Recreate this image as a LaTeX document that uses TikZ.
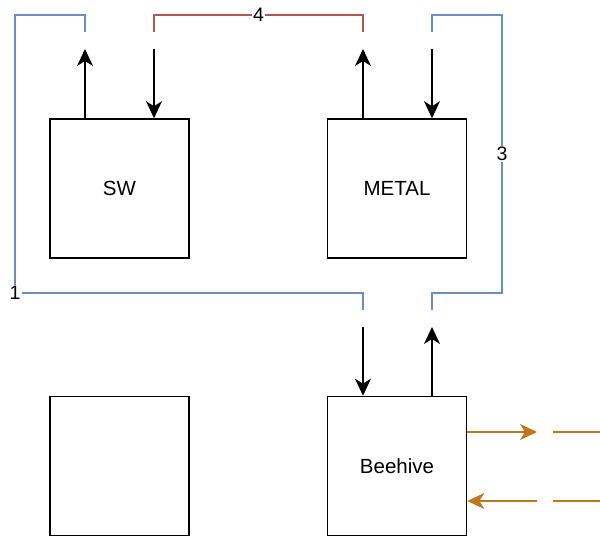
\documentclass[tikz,border=0pt]{standalone}
\usepackage{fontspec}
\setmainfont{Liberation Sans}
\usetikzlibrary{arrows.meta}
\definecolor{linkblue}{RGB}{108,142,191}
\definecolor{linkred}{RGB}{184,84,80}
\definecolor{linkorange}{RGB}{191,118,28}

\begin{document}
\begin{tikzpicture}[
    x=1pt, y=-1pt,
    box/.style={rectangle, draw, line width=1.6pt, minimum width=139pt, minimum height=139pt, font=\fontsize{20.5}{24}\selectfont},
    arrow/.style={-{Stealth[length=17pt, width=16pt, inset=5pt]}, line width=1.6pt},
    link/.style={line width=1.3pt},
    tag/.style={fill=white, inner sep=1.5pt, font=\fontsize{19.5}{22}\selectfont}
]
    \useasboundingbox (0,0) rectangle (600,537);

    % Boxes
    \node[box] (sw) at (119.5,188.5) {SW};
    \node[box] (metal) at (397,188.5) {METAL};
    \node[box] (spare) at (119.5,466) {};
    \node[box] (hive) at (397,466) {Beehive};

    % Free ends of the arrows and links
    \coordinate (swout) at (85,49);
    \coordinate (swin) at (154,49);
    \coordinate (metalout) at (363,49);
    \coordinate (metalin) at (432,49);
    \coordinate (hivein) at (363,327);
    \coordinate (hiveout) at (432,327);
    \coordinate (swoutend) at (85,32);
    \coordinate (swinend) at (154,32);
    \coordinate (metaloutend) at (363,32);
    \coordinate (metalinend) at (432,32);
    \coordinate (hiveinend) at (363,310);
    \coordinate (hiveoutend) at (432,310);
    \coordinate (corner1) at (15,293);

    % Arrows at the boxes
    \draw[arrow] (sw.north -| swout) -- (swout);
    \draw[arrow] (swin) -- (sw.north -| swin);
    \draw[arrow] (metal.north -| metalout) -- (metalout);
    \draw[arrow] (metalin) -- (metal.north -| metalin);
    \draw[arrow] (hivein) -- (hive.north -| hivein);
    \draw[arrow] (hive.north -| hiveout) -- (hiveout);

    % Links
    \draw[link, linkblue] (swoutend) -- ++(0,-17) -| (corner1) -| (hiveinend);
    \node[tag] at (corner1) {1};
    \draw[link, linkred] (swinend) -- ++(0,-17) -- node[tag, text=black] {4} ++(209,0) -- (metaloutend);
    \draw[link, linkblue] (metalinend) -- ++(0,-17) -- ++(70,0) -- node[tag, text=black] {3} ++(0,278) -| (hiveoutend);

    % Beehive outside
    \coordinate (hivetx) at (537,432);
    \coordinate (hiverx) at (537,501);
    \draw[arrow, linkorange] (hive.east |- hivetx) -- (hivetx);
    \draw[arrow, linkorange] (hiverx) -- (hive.east |- hiverx);
    \draw[link, linkorange, line width=1.6pt] (553,432) -- (600,432);
    \draw[link, linkorange, line width=1.6pt] (553,501) -- (600,501);
\end{tikzpicture}
\end{document}
